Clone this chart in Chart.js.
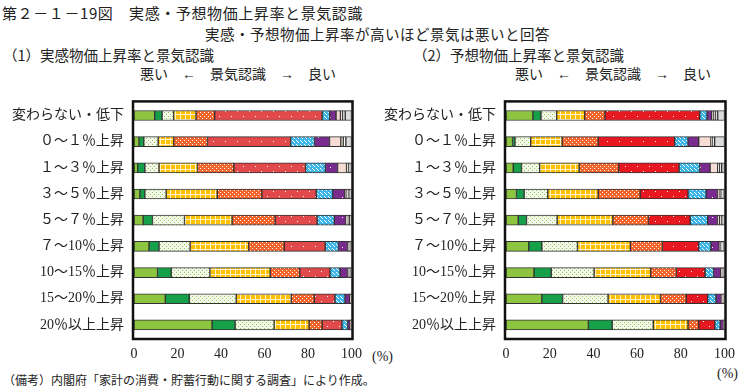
<!DOCTYPE html>
<html lang="ja">
<head>
<meta charset="utf-8">
<script src="https://cdn.jsdelivr.net/npm/chart.js@4.4.1/dist/chart.umd.min.js"></script>
<style>
body{margin:0;width:743px;height:389px;background:#fff;position:relative;overflow:hidden;font-family:"Noto Sans CJK JP",sans-serif;color:#222}
.t{position:absolute;white-space:nowrap;line-height:1}
.s{font-family:"Liberation Serif","Noto Sans CJK JP",serif}
canvas{position:absolute}
</style>
</head>
<body>
<div class="t" style="left:2px;top:5px;font-size:15px;letter-spacing:0.6px">第２－１－19図　実感・予想物価上昇率と景気認識</div>
<div class="t" style="left:205px;top:27px;font-size:14.5px;letter-spacing:0.5px">実感・予想物価上昇率が高いほど景気は悪いと回答</div>
<div class="t" style="left:3px;top:48px;font-size:14.5px">（1）実感物価上昇率と景気認識</div>
<div class="t" style="left:413px;top:48px;font-size:14.5px">（2）予想物価上昇率と景気認識</div>
<div class="t s" style="left:140px;top:68px;font-size:14px">悪い　←　景気認識　→　良い</div>
<div class="t s" style="left:515px;top:68px;font-size:14px">悪い　←　景気認識　→　良い</div>
<div class="t s" style="left:372px;top:350px;font-size:14px">(%)</div>
<div class="t s" style="left:717px;top:367px;font-size:14px">(%)</div>
<div class="t s" style="left:3px;top:375px;font-size:12px">（備考）内閣府「家計の消費・貯蓄行動に関する調査」により作成。</div>

<canvas id="c1" width="370" height="290" style="left:0;top:84px"></canvas>
<canvas id="c2" width="373" height="290" style="left:370px;top:84px"></canvas>

<script>
// 物価上昇率の区分
const categories = ['変わらない・低下', '０～１％上昇', '１～３％上昇', '３～５％上昇', '５～７％上昇',
                    '７～10％上昇', '10～15％上昇', '15～20％上昇', '20％以上上昇'];
// 景気認識 (左=悪い … 右=良い、最後=不明)
const levels = ['0', '1', '2', '3', '4', '5', '6', '7', '8', '9', '10', '不明'];
const xTicks = [0, 20, 40, 60, 80, 100];

// (1) 実感物価上昇率 (%)
const act1 = [9.5, 3.4, 5.3, 10.3, 8.6, 49.4, 3.5, 2.9, 2.0, 1.0, 1.2, 2.9];
const act2 = [2.3, 2.2, 6.6, 7.2, 15.5, 38.2, 11.0, 6.9, 5.2, 1.1, 1.2, 2.6];
const act3 = [1.7, 3.3, 6.5, 17.7, 16.7, 33.0, 9.1, 5.6, 4.1, 0.9, 0.7, 0.7];
const act4 = [2.7, 2.3, 9.8, 23.5, 20.5, 25.0, 7.6, 5.6, 0.9, 0.6, 0.7, 0.8];
const act5 = [4.2, 4.3, 14.7, 21.9, 19.8, 19.3, 7.9, 5.3, 0.6, 0.5, 0.5, 1.0];
const act6 = [6.9, 4.6, 14.3, 26.9, 16.4, 18.8, 6.1, 4.2, 0.5, 0.4, 0.4, 0.5];
const act7 = [10.8, 6.3, 17.8, 27.7, 13.6, 13.9, 4.6, 3.5, 0.4, 0.4, 0.4, 0.6];
const act8 = [14.4, 11.0, 21.6, 25.3, 10.6, 9.5, 4.6, 2.2, 0.2, 0.2, 0.2, 0.2];
const act9 = [35.9, 10.6, 17.9, 16.1, 6.0, 9.1, 2.6, 1.2, 0.1, 0.1, 0.1, 0.3];

// (2) 予想物価上昇率 (%)
const exp1 = [12.3, 3.7, 7.2, 12.8, 9.3, 43.4, 3.3, 2.2, 0.9, 0.9, 0.9, 3.1];
const exp2 = [3.0, 1.1, 7.2, 14.4, 16.5, 35.0, 6.1, 4.9, 5.6, 0.8, 0.9, 4.5];
const exp3 = [3.3, 3.8, 8.3, 18.1, 18.1, 27.6, 9.4, 4.8, 3.5, 0.9, 0.9, 1.3];
const exp4 = [4.8, 3.5, 10.8, 23.1, 19.2, 21.9, 8.3, 5.2, 1.2, 0.8, 0.6, 0.6];
const exp5 = [5.6, 3.8, 14.0, 25.5, 16.3, 19.1, 8.0, 4.5, 1.0, 0.8, 0.6, 0.8];
const exp6 = [10.4, 6.0, 16.3, 24.2, 14.7, 16.6, 5.6, 3.8, 0.6, 0.6, 0.6, 0.6];
const exp7 = [12.8, 7.9, 19.6, 25.9, 11.8, 13.1, 3.9, 3.3, 0.4, 0.4, 0.4, 0.5];
const exp8 = [16.4, 9.5, 20.8, 24.0, 11.8, 9.8, 3.8, 2.5, 0.3, 0.3, 0.3, 0.5];
const exp9 = [37.7, 10.9, 18.8, 15.9, 4.9, 7.4, 2.4, 1.5, 0.1, 0.1, 0.1, 0.2];

const actualRows = [act1, act2, act3, act4, act5, act6, act7, act8, act9];
const expectRows = [exp1, exp2, exp3, exp4, exp5, exp6, exp7, exp8, exp9];

// small tile patterns
function tile(w, h, base, draw) {
    const c = document.createElement('canvas');
    c.width = w; c.height = h;
    const g = c.getContext('2d');
    g.fillStyle = base; g.fillRect(0, 0, w, h);
    if (draw) draw(g);
    return g.createPattern(c, 'repeat');
}
function dots(g, color, pts) {
    g.fillStyle = color;
    pts.forEach(p => g.fillRect(p[0], p[1], 1, 1));
}

function makeFills(red) {
    return [
        '#8dc540',
        '#16a049',
        tile(4, 4, '#f3f8e8', g => dots(g, '#92c75a', [[0, 0], [2, 2]])),
        tile(5, 5, '#ffc000', g => { g.fillStyle = '#fff4cc'; g.fillRect(0, 0, 5, 1); g.fillRect(0, 0, 1, 5); }),
        tile(4, 4, '#f3642a', g => dots(g, '#fff', [[0, 0], [2, 2]])),
        tile(12, 10, red, g => dots(g, '#fff', [[3, 2], [9, 7]])),
        tile(4, 4, '#3cb6ea', g => dots(g, '#fff', [[0, 0], [2, 2], [1, 1]])),
        tile(12, 10, '#7a2c8e', g => dots(g, '#fff', [[6, 3]])),
        '#f7dcd6',
        '#fdf0e2',
        '#ffffff',
        '#dcdcdc'
    ];
}

const frame = {
    id: 'frame',
    afterDatasetsDraw(chart) {
        const a = chart.chartArea, ctx = chart.ctx;
        ctx.save();
        ctx.lineWidth = 2.5;
        ctx.strokeStyle = '#111';
        ctx.strokeRect(a.left - 1, a.top - 1, a.right - a.left + 2, a.bottom - a.top + 2);
        ctx.restore();
    }
};

function makeChart(id, rows, yWidth, padRight, red) {
    const fills = makeFills(red);
    return new Chart(document.getElementById(id), {
        type: 'bar',
        data: {
            labels: categories,
            datasets: levels.map((lv, i) => ({
                label: lv,
                data: rows.map(r => r[i]),
                backgroundColor: fills[i],
                borderColor: '#333',
                borderWidth: 1,
                borderSkipped: false,
                barThickness: 10
            }))
        },
        options: {
            indexAxis: 'y',
            responsive: false,
            animation: false,
            layout: { padding: { top: 3, right: padRight, left: 0, bottom: 0 } },
            plugins: { legend: { display: false }, tooltip: { enabled: false } },
            scales: {
                x: {
                    stacked: true, min: 0, max: 100,
                    afterBuildTicks(s) { s.ticks = xTicks.map(v => ({ value: v })); },
                    grid: { display: false, drawTicks: false },
                    border: { display: false },
                    ticks: { color: '#222', padding: 8, font: { family: 'Liberation Serif', size: 14 } },
                    afterFit(s) { s.height = 36; }
                },
                y: {
                    stacked: true,
                    grid: { display: false, drawTicks: false },
                    border: { display: false },
                    ticks: { color: '#222', padding: 10, font: { family: '"Liberation Serif","Noto Sans CJK JP"', size: 14 } },
                    afterFit(s) { s.width = yWidth; }
                }
            }
        },
        plugins: [frame]
    });
}

makeChart('c1', actualRows, 134, 16, '#e2494a');
makeChart('c2', expectRows, 136, 15, '#e81820');
</script>
</body>
</html>
